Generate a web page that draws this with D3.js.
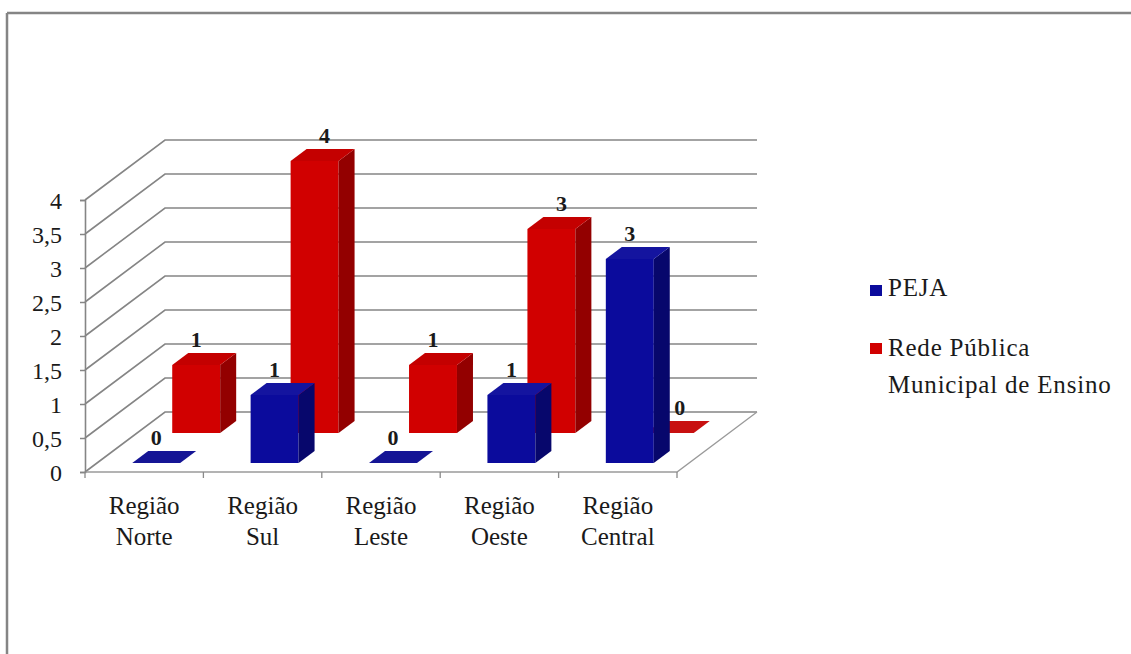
<!DOCTYPE html>
<html>
<head>
<meta charset="utf-8">
<script src="https://cdn.jsdelivr.net/npm/d3@7/dist/d3.min.js"></script>
<style>
  html, body { margin: 0; padding: 0; background: #ffffff; }
  svg { display: block; }
  svg text { font-family: "Liberation Serif", "Times New Roman", serif; fill: #1a1a1a; }
</style>
</head>
<body>
<svg id="chart" width="1131" height="654"></svg>
<script>
// ---- data ----
const categories = ["Região Norte", "Região Sul", "Região Leste", "Região Oeste", "Região Central"];
const seriesNames = ["PEJA", "Rede Pública Municipal de Ensino"];
const pejaValues = [0, 1, 0, 1, 3];
const redeValues = [1, 4, 1, 3, 0];
const yTickValues = [0, 0.5, 1, 1.5, 2, 2.5, 3, 3.5, 4];

// ---- layout ----
const FONT = "\"Liberation Serif\", \"Times New Roman\", serif";
const svg = d3.select("#chart");
const DX = 80, DY = 60;              // depth projection (oblique)
const x = d3.scaleBand().domain(categories).range([85, 677]).padding(0);
const y = d3.scaleLinear().domain([0, 4]).range([472, 200]);
const P = (px, v, z) => [px + z * DX, y(v) - z * DY];

const styles = {
  peja: { front: "#0b0b9c", top: "#14149f", side: "#07076c", z0: 0.15, zeroTop: "#151595" },
  rede: { front: "#d10000", top: "#c40000", side: "#930000", z0: 0.65, zeroTop: "#c81010" }
};
const barDepth = 0.2;
const barFrac = 0.405;

// outer frame
svg.append("line").attr("x1", 7).attr("y1", 13).attr("x2", 1131).attr("y2", 13)
  .attr("stroke", "#858585").attr("stroke-width", 2.5);
svg.append("line").attr("x1", 7).attr("y1", 13).attr("x2", 7).attr("y2", 654)
  .attr("stroke", "#858585").attr("stroke-width", 2.5);

// ---- walls: gridlines on back wall + left wall diagonals ----
const walls = svg.append("g");
const x0 = x.range()[0], x1 = x.range()[1];
yTickValues.forEach(v => {
  const a = P(x0, v, 0), b = P(x0, v, 1), c = P(x1, v, 1);
  walls.append("path")
    .attr("d", `M${a[0]},${a[1]}L${b[0]},${b[1]}L${c[0]},${c[1]}`)
    .attr("fill", "none").attr("stroke", "#858585").attr("stroke-width", 1.6);
});
// floor
{
  const f1 = P(x0, 0, 0), f2 = P(x1, 0, 0), f3 = P(x1, 0, 1);
  walls.append("path")
    .attr("d", `M${f1[0]},${f1[1]}L${f2[0]},${f2[1]}L${f3[0]},${f3[1]}`)
    .attr("fill", "none").attr("stroke", "#9a9a9a").attr("stroke-width", 1.3);
}

// y axis
const yAxis = d3.axisLeft(y).tickValues(yTickValues).tickSize(5).tickPadding(18)
  .tickFormat(d => String(d).replace(".", ","));
const yg = svg.append("g").attr("transform", `translate(${x0},0)`).call(yAxis)
  .attr("font-family", FONT);
yg.select(".domain").attr("stroke", "#858585").attr("stroke-width", 1.6);
yg.selectAll(".tick line").attr("stroke", "#858585").attr("stroke-width", 1.5);
yg.selectAll(".tick text").attr("font-size", 24).attr("fill", "#1a1a1a")
  .style("font-family", FONT).attr("dy", "0.36em");

// x axis ticks at category boundaries
const bounds = categories.map(c => x(c)).concat([x1]);
svg.append("g").selectAll("line").data(bounds).join("line")
  .attr("x1", d => d).attr("x2", d => d).attr("y1", y(0)).attr("y2", y(0) + 6)
  .attr("stroke", "#8a8a8a").attr("stroke-width", 1.3);

// category labels
const catG = svg.append("g");
categories.forEach(c => {
  const parts = c.split(" ");
  const cx = x(c) + x.bandwidth() / 2;
  const t = catG.append("text").attr("text-anchor", "middle").attr("font-size", 25)
    .style("font-family", FONT).attr("x", cx).attr("y", 514);
  t.append("tspan").attr("x", cx).text(parts[0]);
  t.append("tspan").attr("x", cx).attr("dy", 31).text(parts[1]);
});

// ---- bars ----
const barsG = svg.append("g");
const labels = [];
function drawBar(cat, v, st) {
  const w = x.bandwidth() * barFrac;
  const xl = x(cat) + (x.bandwidth() - w) / 2, xr = xl + w;
  const z0 = st.z0, z1 = st.z0 + barDepth;
  const fbl = P(xl, 0, z0), fbr = P(xr, 0, z0), ftl = P(xl, v, z0), ftr = P(xr, v, z0);
  const btl = P(xl, v, z1), btr = P(xr, v, z1), bbr = P(xr, 0, z1);
  const poly = pts => "M" + pts.map(p => p.join(",")).join("L") + "Z";
  if (v > 0) {
    barsG.append("path").attr("d", poly([fbl, fbr, ftr, ftl])).attr("fill", st.front);
    barsG.append("path").attr("d", poly([fbr, bbr, btr, ftr])).attr("fill", st.side);
    barsG.append("path").attr("d", poly([ftl, ftr, btr, btl])).attr("fill", st.top);
  } else {
    barsG.append("path").attr("d", poly([ftl, ftr, btr, btl])).attr("fill", st.zeroTop);
  }
  const shift = st === styles.rede && v !== 1 ? 10 : 0;
  labels.push({ x: (ftl[0] + ftr[0]) / 2 + shift, y: ftl[1] - 18, v });
}
categories.forEach((c, i) => drawBar(c, redeValues[i], styles.rede));
categories.forEach((c, i) => drawBar(c, pejaValues[i], styles.peja));

svg.append("g").selectAll("text").data(labels).join("text")
  .attr("x", d => d.x).attr("y", d => d.y).attr("text-anchor", "middle")
  .style("font-family", FONT)
  .attr("font-size", 22).attr("font-weight", "bold").text(d => d.v);

// ---- legend ----
const legend = svg.append("g");
const legendItems = [
  { name: seriesNames[0], color: styles.peja.front, lines: ["PEJA"], sq: 285, base: 296 },
  { name: seriesNames[1], color: styles.rede.front, lines: ["Rede Pública", "Municipal de Ensino"], sq: 343, base: 356 }
];
legendItems.forEach(it => {
  legend.append("rect").attr("x", 870).attr("y", it.sq).attr("width", 12).attr("height", 11).attr("fill", it.color);
  const t = legend.append("text").attr("font-size", 25).style("font-family", FONT)
    .attr("letter-spacing", 0.8).attr("x", 888).attr("y", it.base);
  it.lines.forEach((l, j) => t.append("tspan").attr("x", 888).attr("dy", j ? 37 : 0).text(l));
});
</script>
</body>
</html>
